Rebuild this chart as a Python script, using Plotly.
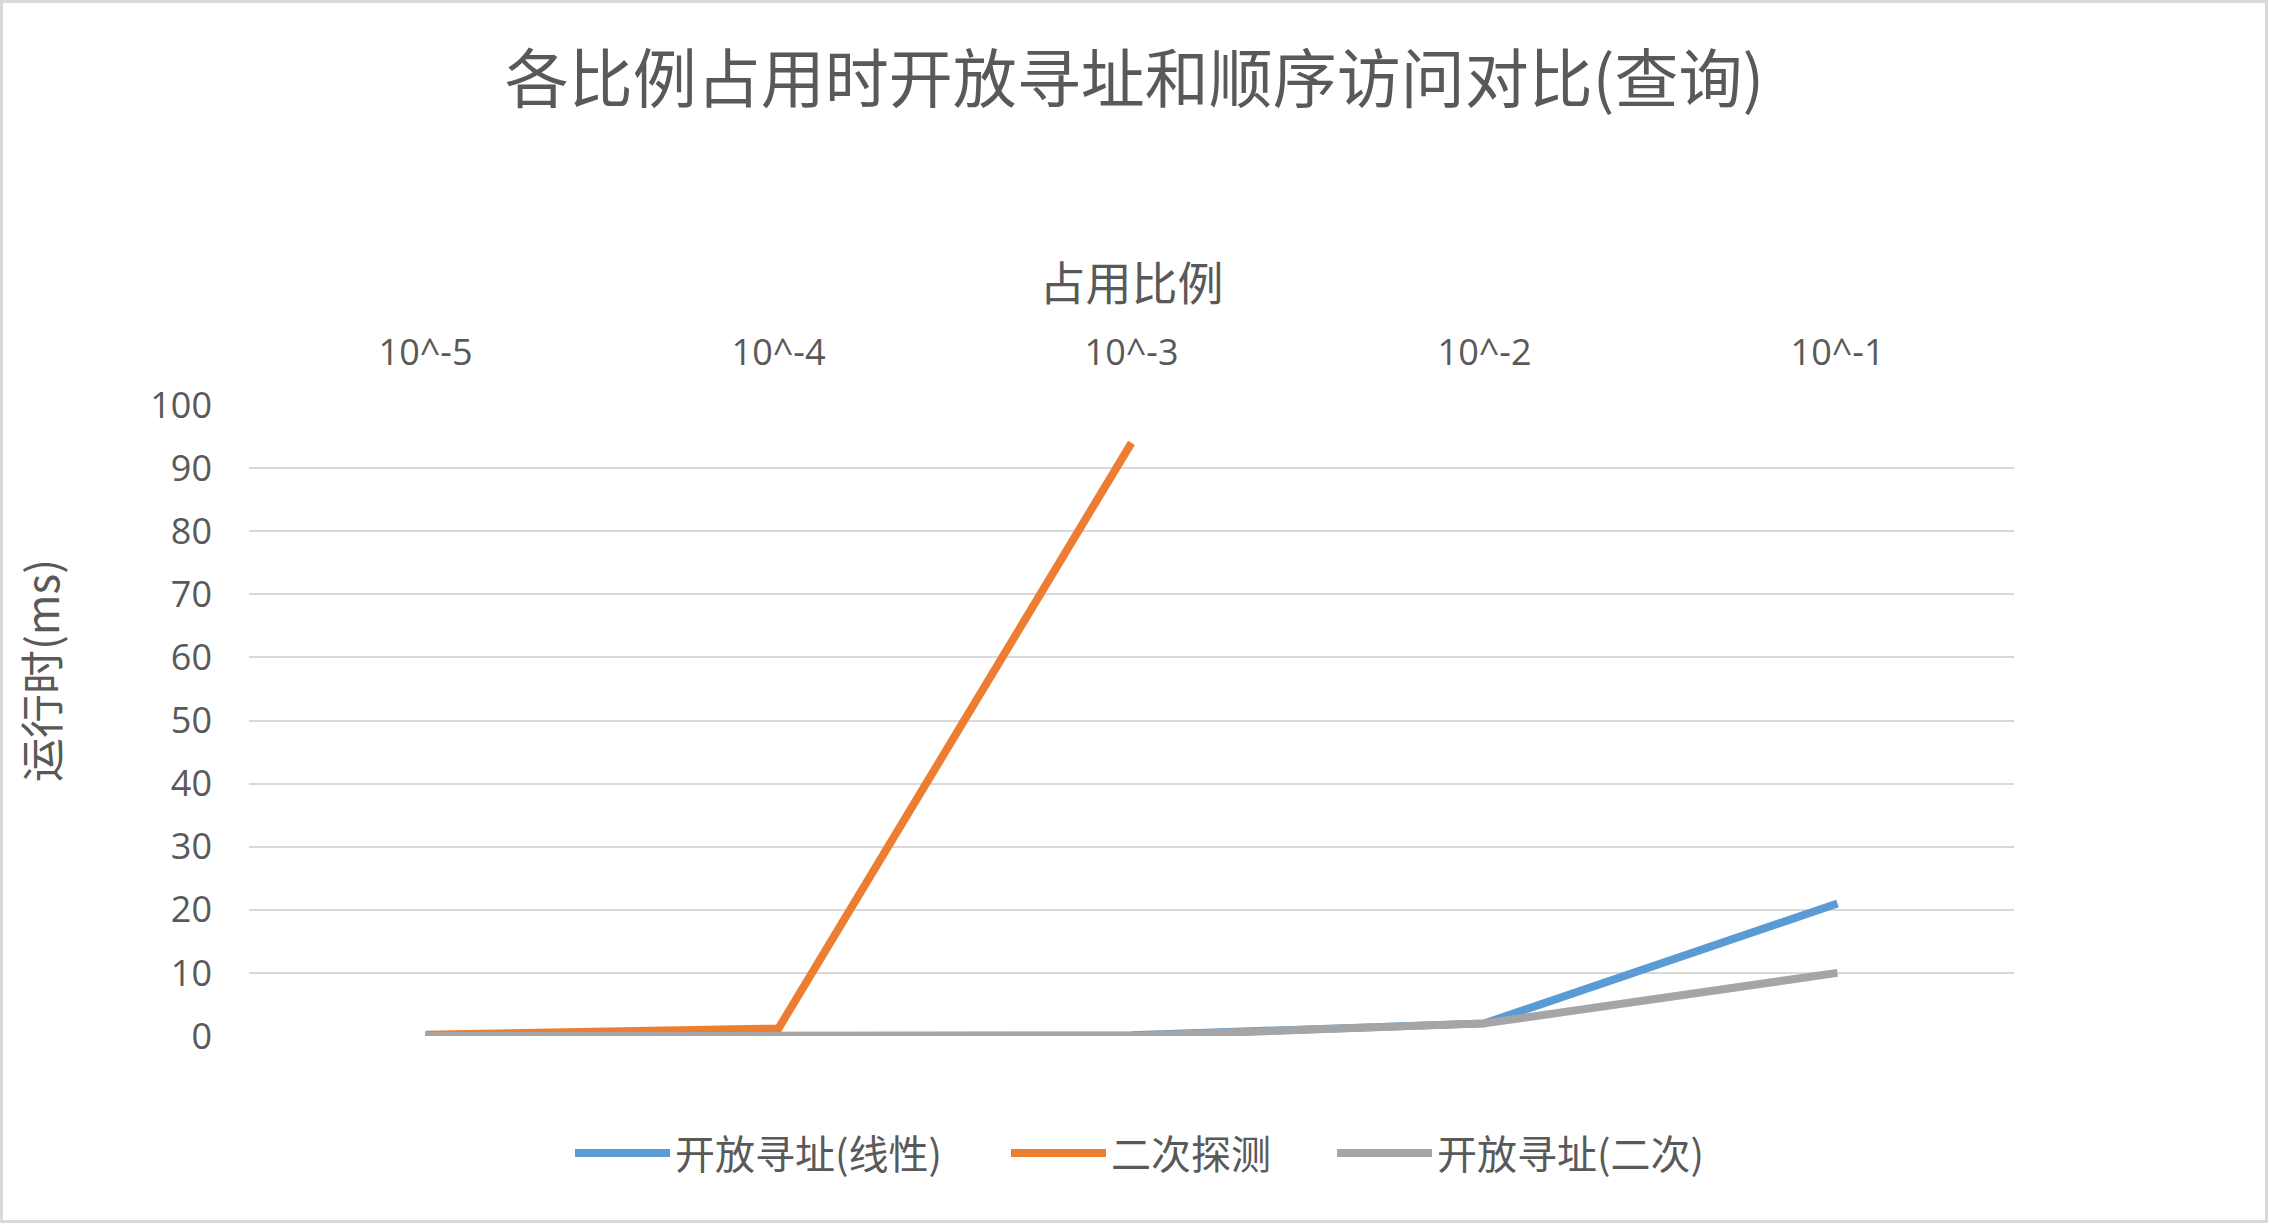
import plotly.graph_objects as go

categories = ["10^-5", "10^-4", "10^-3", "10^-2", "10^-1"]
linear_probe = [0.0, 0.0, 0.1, 2.0, 21.0]
quadratic_probe = [0.2, 1.2, 94.0, None, None]
open_quadratic = [0.0, 0.0, 0.0, 2.0, 10.0]
y_ticks = [0, 10, 20, 30, 40, 50, 60, 70, 80, 90, 100]

W, H = 2269, 1224
ML, MR, MT, MB = 249, 255, 405, 188
pw, ph = W - ML - MR, H - MT - MB

TXT = "#595959"
CJK = "Noto Sans CJK SC"
NUM = "Open Sans, Noto Sans CJK SC"


def px_x(x):
    return (x - ML) / pw


def px_y(y):
    return (MT + ph - y) / ph


fig = go.Figure()
fig.add_trace(go.Scatter(x=categories, y=linear_probe, mode="lines", name="开放寻址(线性)",
                         line=dict(color="#5b9bd5", width=8), legend="legend"))
fig.add_trace(go.Scatter(x=categories, y=quadratic_probe, mode="lines", name="二次探测",
                         line=dict(color="#ed7d31", width=8), legend="legend2"))
fig.add_trace(go.Scatter(x=categories, y=open_quadratic, mode="lines", name="开放寻址(二次)",
                         line=dict(color="#a5a5a5", width=8), legend="legend3"))

leg_common = dict(orientation="h", xanchor="left", yanchor="middle", y=px_y(1153),
                  font=dict(size=40, color=TXT, family=CJK), itemwidth=95,
                  bgcolor="rgba(0,0,0,0)")

fig.update_layout(
    width=W, height=H,
    margin=dict(l=ML, r=MR, t=MT, b=MB),
    paper_bgcolor="white", plot_bgcolor="white",
    font=dict(family=CJK, color=TXT),
    title=dict(text="各比例占用时开放寻址和顺序访问对比(查询)", x=0.5, xanchor="center",
               y=1 - 80 / H, yanchor="middle", font=dict(size=64, color=TXT, family=CJK)),
    xaxis=dict(side="top", showgrid=False, zeroline=False, showline=False, ticks="",
               range=[-0.5, len(categories) - 0.5],
               tickfont=dict(size=36, family=NUM, color=TXT), ticklabelstandoff=32,
               title=dict(text="占用比例", font=dict(size=46, color=TXT, family=CJK), standoff=11)),
    yaxis=dict(range=[0, 100], tickvals=y_ticks, showgrid=True, gridcolor="#d9d9d9", gridwidth=2,
               zeroline=False, showline=False, ticks="",
               tickfont=dict(size=36, family=NUM, color=TXT), ticklabelstandoff=36),
    legend=dict(x=px_x(570), **leg_common),
    legend2=dict(x=px_x(1006), **leg_common),
    legend3=dict(x=px_x(1332), **leg_common),
    showlegend=True,
)

fig.add_annotation(text="运行时(ms)", textangle=-90, xref="paper", yref="paper",
                   x=px_x(40), y=px_y(671), xanchor="center", yanchor="middle", showarrow=False,
                   font=dict(size=44, color=TXT, family=CJK))

fig.add_shape(type="rect", xref="paper", yref="paper",
              x0=-(ML - 1.5) / pw, x1=1 + (MR - 2.5) / pw,
              y0=-(MB - 2.5) / ph, y1=1 + (MT - 1.5) / ph,
              line=dict(color="#d9d9d9", width=3), fillcolor="rgba(0,0,0,0)", layer="below")

fig.write_html("out.html")
